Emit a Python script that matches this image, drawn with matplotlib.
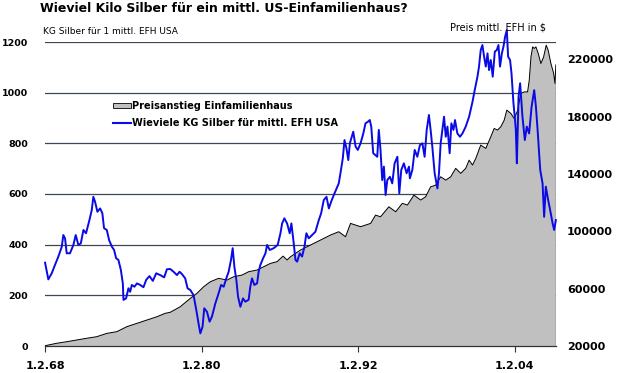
import matplotlib
matplotlib.use("Agg")
import matplotlib.pyplot as plt
from matplotlib.transforms import blended_transform_factory
from matplotlib.patches import Patch
from matplotlib.lines import Line2D

# ---- data ----
silver_years = [
    1968.09, 1968.34, 1968.60, 1968.85, 1969.11, 1969.37, 1969.49, 1969.62, 1969.75, 1970.00,
    1970.26, 1970.44, 1970.64, 1970.83, 1971.03, 1971.23, 1971.49, 1971.67, 1971.79, 1971.92,
    1972.10, 1972.31, 1972.48, 1972.61, 1972.82, 1973.00, 1973.21, 1973.38, 1973.54, 1973.71,
    1973.90, 1974.05, 1974.10, 1974.30, 1974.48, 1974.61, 1974.74, 1974.94, 1975.13, 1975.38,
    1975.63, 1975.84, 1976.09, 1976.35, 1976.61, 1976.91, 1977.22, 1977.43, 1977.68, 1977.94,
    1978.20, 1978.40, 1978.58, 1978.83, 1979.01, 1979.22, 1979.47, 1979.68, 1979.85, 1979.99,
    1980.16, 1980.29, 1980.50, 1980.70, 1980.88, 1981.14, 1981.39, 1981.58, 1981.78, 1981.98,
    1982.16, 1982.34, 1982.47, 1982.60, 1982.75, 1982.88, 1983.06, 1983.26, 1983.44, 1983.69,
    1983.82, 1983.95, 1984.13, 1984.34, 1984.46, 1984.59, 1984.80, 1984.98, 1985.11, 1985.31,
    1985.61, 1985.92, 1986.13, 1986.26, 1986.43, 1986.64, 1986.84, 1986.97, 1987.15, 1987.28,
    1987.41, 1987.61, 1987.79, 1987.97, 1988.12, 1988.30, 1988.56, 1988.81, 1989.07, 1989.25,
    1989.45, 1989.66, 1989.84, 1990.02, 1990.22, 1990.43, 1990.60, 1990.73, 1990.91, 1991.04,
    1991.19, 1991.33, 1991.45, 1991.71, 1991.89, 1992.06, 1992.27, 1992.48, 1992.65, 1992.83,
    1992.98, 1993.09, 1993.24, 1993.55, 1993.67, 1993.80, 1993.93, 1994.06, 1994.19, 1994.32,
    1994.52, 1994.70, 1994.88, 1995.09, 1995.24, 1995.39, 1995.59, 1995.80, 1995.98, 1996.05,
    1996.24, 1996.42, 1996.62, 1996.82, 1997.01, 1997.18, 1997.34, 1997.51, 1997.64, 1997.77,
    1997.95, 1998.16, 1998.28, 1998.41, 1998.54, 1998.67, 1998.80, 1998.93, 1999.10, 1999.23,
    1999.39, 1999.51, 1999.69, 1999.89, 2000.08, 2000.33, 2000.59, 2000.85, 2001.02, 2001.23,
    2001.35, 2001.48, 2001.61, 2001.74, 2001.87, 2002.00, 2002.12, 2002.25, 2002.40, 2002.56,
    2002.71, 2002.84, 2002.96, 2003.10, 2003.22, 2003.35, 2003.48, 2003.58, 2003.73, 2003.84,
    2003.99, 2004.09, 2004.17, 2004.25, 2004.38, 2004.50, 2004.68, 2004.86, 2005.01, 2005.19,
    2005.38, 2005.58, 2005.71, 2005.84, 2006.04, 2006.22, 2006.34, 2006.47, 2006.65, 2006.80,
    2006.99, 2007.11, 2007.24,
]
silver_kg = [
    329, 263, 287, 320, 353, 392, 438, 425, 366, 366,
    399, 438, 399, 405, 458, 445, 497, 537, 589, 570,
    530, 543, 524, 465, 458, 418, 392, 379, 346, 340,
    300, 247, 182, 188, 228, 214, 241, 234, 247, 241,
    232, 261, 276, 257, 287, 280, 271, 303, 304, 293,
    280, 293, 284, 267, 228, 221, 201, 142, 90, 50,
    76, 149, 135, 96, 116, 168, 208, 241, 234, 267,
    293, 340, 386, 313, 261, 195, 155, 188, 175, 182,
    234, 267, 241, 247, 293, 320, 346, 366, 399, 379,
    386, 399, 445, 484, 504, 484, 445, 484, 405, 340,
    333, 366, 353, 392, 445, 425, 438, 451, 497, 524,
    576, 589, 543, 570, 596, 622, 642, 682, 741, 813,
    780, 734, 800, 846, 787, 774, 800, 839, 879, 885,
    892, 866, 761, 747, 853, 774, 655, 708, 596, 655,
    668, 642, 721, 747, 603, 695, 721, 682, 708, 662,
    695, 774, 747, 793, 800, 747, 853, 912, 853, 787,
    682, 622, 682, 800, 853, 905, 826, 866, 761, 879,
    853, 892, 839, 826, 839, 866, 905, 964, 1010, 1063,
    1103, 1168, 1188, 1142, 1103, 1155, 1089, 1129, 1063, 1162,
    1168, 1188, 1103, 1155, 1181, 1221, 1247, 1142, 1129, 1076,
    958, 905, 853, 721, 984, 1037, 905, 813, 866, 839,
    945, 1010, 945, 853, 695, 642, 510, 629, 576, 537,
    484, 458, 497,
]

price_years = [
    1968.09, 1968.98, 1969.75, 1970.52, 1971.29, 1972.05, 1972.82, 1973.59, 1974.36, 1975.13,
    1975.89, 1976.66, 1977.30, 1977.68, 1978.45, 1979.22, 1979.73, 1980.24, 1980.75, 1981.39,
    1982.04, 1982.54, 1983.19, 1983.69, 1984.34, 1984.85, 1985.36, 1985.87, 1986.33, 1986.64,
    1986.89, 1987.66, 1988.43, 1989.20, 1989.97, 1990.60, 1991.12, 1991.50, 1992.27, 1993.04,
    1993.42, 1993.80, 1994.44, 1994.96, 1995.47, 1995.86, 1996.36, 1996.88, 1997.26, 1997.64,
    1998.03, 1998.41, 1998.80, 1999.18, 1999.56, 1999.95, 2000.33, 2000.59, 2000.85, 2001.10,
    2001.48, 2001.87, 2002.25, 2002.51, 2002.77, 2003.02, 2003.28, 2003.48, 2003.79, 2004.04,
    2004.30, 2004.55, 2004.81, 2005.07, 2005.20, 2005.33, 2005.46, 2005.58, 2005.71, 2005.89,
    2006.09, 2006.30, 2006.50, 2006.65, 2006.86, 2007.07, 2007.17, 2007.24,
]
house_price = [
    20200, 21900, 23000, 24200, 25400, 26500, 28800, 30000, 33500, 35800,
    38100, 40400, 42800, 43500, 47400, 53200, 56700, 61300, 64800, 67200,
    66000, 68300, 69500, 71800, 73000, 75300, 77600, 78800, 82700, 80000,
    82200, 86900, 90400, 93900, 97400, 99700, 96200, 105500, 103200, 105500,
    111300, 110100, 117100, 113600, 119500, 118300, 125200, 121800, 124100, 131000,
    132200, 138000, 135700, 138000, 143900, 140400, 143900, 149600, 146200, 150800,
    160100, 157800, 165900, 171700, 170600, 172900, 177500, 184500, 182200, 178700,
    184000, 196100, 197200, 197200, 205400, 221600, 228600, 227500, 228600, 224000,
    217000, 221600, 229800, 226300, 217000, 210100, 203100, 216000,
]

x_tick_pos = [1968.085, 1980.085, 1992.085, 2004.085]
x_tick_labels = ["1.2.68", "1.2.80", "1.2.92", "1.2.04"]
left_ticks = [0, 200, 400, 600, 800, 1000, 1200]
right_ticks = [20000, 60000, 100000, 140000, 180000, 220000]

title = "Wieviel Kilo Silber für ein mittl. US-Einfamilienhaus?"
left_label = "KG Silber für 1 mittl. EFH USA"
right_label = "Preis mittl. EFH in $"
legend_labels = ["Preisanstieg Einfamilienhaus", "Wieviele KG Silber für mittl. EFH USA"]

# ---- figure ----
W, H = 618, 373
fig = plt.figure(figsize=(W / 100, H / 100), dpi=100)
fig.patch.set_facecolor("white")

left, right, bottom, top = 45 / W, 556 / W, 1 - 346 / H, 1 - 42 / H
ax = fig.add_axes([left, bottom, right - left, top - bottom])
ax2 = ax.twinx()

ax.set_xlim(1968.085, 2007.25)
ax.set_ylim(0, 1200)
ax2.set_ylim(20000, 232000)

# area (house price) on the right axis, gridlines (left-axis values) beneath it
ax2.fill_between(price_years, 20000, house_price, facecolor="#c0c0c0",
                 edgecolor="none", zorder=2)
ax2.plot(price_years, house_price, color="black", lw=0.7, zorder=3)
ax2.plot([price_years[-1], price_years[-1]], [20000, house_price[-1]],
         color="black", lw=0.9, zorder=3)
gtrans = blended_transform_factory(ax2.transAxes, ax.transData)
for v in left_ticks[1:]:
    ax2.plot([0, 1], [v, v], transform=gtrans, color="#3d4756", lw=0.9, zorder=1)

# silver line on top
ax.set_zorder(ax2.get_zorder() + 1)
ax.patch.set_visible(False)
ax.plot(silver_years, silver_kg, color="#0a0ae6", lw=1.4, zorder=5, clip_on=False)

# axes styling
for a in (ax, ax2):
    for s in a.spines.values():
        s.set_visible(False)
ax.spines["bottom"].set_visible(True)
ax.spines["bottom"].set_color("#333333")
ax.spines["bottom"].set_linewidth(0.9)

ax.set_xticks(x_tick_pos)
ax.set_xticklabels(x_tick_labels, fontsize=8, fontweight="bold")
ax.tick_params(axis="x", direction="out", length=4, width=0.8, pad=7, colors="#333333",
               labelcolor="black")
ax.set_yticks(left_ticks)
ax.set_yticklabels([str(t) for t in left_ticks], fontsize=6.8, fontweight="bold")
ax.tick_params(axis="y", length=0, pad=12)
ax2.set_yticks(right_ticks)
ax2.set_yticklabels([str(t) for t in right_ticks], fontsize=8, fontweight="bold")
ax2.tick_params(axis="y", length=0, pad=8)

# texts
fig.text(40 / W, 1 - 9 / H, title, fontsize=9, fontweight="bold", va="center", ha="left")
fig.text(43 / W, 1 - 32 / H, left_label, fontsize=6.5, va="center", ha="left")
fig.text(546 / W, 1 - 27 / H, right_label, fontsize=7, va="center", ha="right")

# legend
handles = [Patch(facecolor="#c0c0c0", edgecolor="black", linewidth=0.6),
           Line2D([0], [0], color="#0a0ae6", lw=1.5)]
leg = ax.legend(handles, legend_labels, loc="upper left",
                bbox_to_anchor=(113 / W, 1 - 101 / H), bbox_transform=fig.transFigure,
                frameon=False, borderpad=0, borderaxespad=0, handlelength=1.8,
                handleheight=0.5, handletextpad=0.2, labelspacing=0.7,
                prop={"size": 7, "weight": "bold"})

fig.savefig("out.png", dpi=100, facecolor="white")
